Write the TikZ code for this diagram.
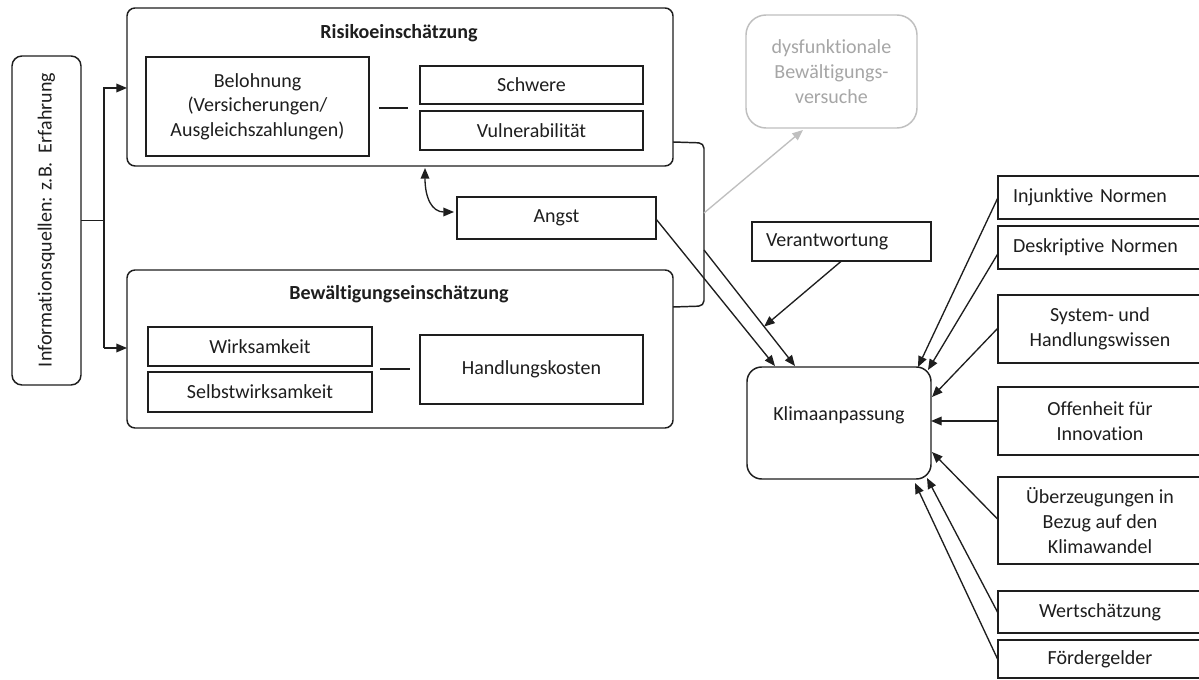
\documentclass[tikz,border=0pt]{standalone}
\usepackage{fontspec}
\setmainfont{Carlito}[Ligatures=NoCommon]
\usetikzlibrary{arrows.meta,calc}
\definecolor{lgray}{RGB}{191,191,191}
\definecolor{tgray}{RGB}{166,166,166}
\definecolor{ink}{RGB}{30,30,30}
\tikzset{
  box/.style={draw=ink, line width=1.1pt, align=center, text=ink},
  wh/.style 2 args={minimum width=#1*0.75pt, minimum height=#2*0.75pt},
  titletext/.style={font=\fontsize{15}{18.5}\selectfont\bfseries, text=ink},
  lefttext/.style 2 args={align=left, inner xsep=#1*0.75pt, text width=#2*0.75pt},
  con/.style={line width=1pt, draw=ink},
  tip/.style={-{Triangle[length=8pt,width=6.5pt]}},
  arr/.style={con, -{Triangle[length=8pt,width=6.5pt]}},
  darr/.style={con, {Triangle[length=8pt,width=6.5pt]}-{Triangle[length=8pt,width=6.5pt]}},
  garr/.style={line width=1pt, draw=lgray, -{Triangle[length=8pt,width=6.5pt,fill=lgray]}},
}
\begin{document}
\begin{tikzpicture}[x=0.75pt,y=-0.75pt,
  every node/.style={font=\fontsize{15}{18.5}\selectfont, inner sep=0pt, outer sep=0pt, text=ink}]
\useasboundingbox (0,0) rectangle (1199,680);
\fill[white] (0,0) rectangle (1199,680);
\clip (0,0) rectangle (1199,680);

% left source
\node[box, rounded corners=7.5pt, wh={69}{329}] (info) at (46.5,220.5) {};
\node[rotate=90] (infotext) at (46.5,220) {Informationsquellen: z.B.\ \ Erfahrung};

% Risikoeinschaetzung
\node[box, rounded corners=6pt, wh={546}{158}] (risiko) at (400,87) {};
\node[titletext] (risikoT) at (399,33) {Risikoeinschätzung};
\node[box, wh={223}{99}] (belohn) at (257.5,106.5) {Belohnung\\(Versicherungen/\\Ausgleichszahlungen)};
\node[box, wh={223}{38}] (schwere) at (531.5,85) {Schwere};
\node[box, wh={223}{39}] (vulner) at (531.5,130.5) {Vulnerabilität};
\draw[con] ($(belohn.east)+(10,1.5)$) -- ($(schwere.west |- belohn.east)+(-12,1.5)$);

% Angst
\node[box, wh={199}{42}] (angst) at (556.5,218) {Angst};

% Bewaeltigungseinschaetzung
\node[box, rounded corners=6pt, wh={546}{158}] (bewaelt) at (400,349) {};
\node[titletext] (bewaeltT) at (399,294) {Bewältigungseinschätzung};
\node[box, wh={224}{39}] (wirk) at (260,346.5) {Wirksamkeit};
\node[box, wh={224}{40}] (selbst) at (260,392) {Selbstwirksamkeit};
\node[box, wh={223}{69}] (handl) at (531.5,369.5) {Handlungskosten};
\draw[con] ($(wirk.east)+(8,22.5)$) -- ($(handl.west)+(-10,-0.5)$);

% dysfunktionale
\node[box, draw=lgray, text=tgray, rounded corners=15pt, wh={171}{113}] (dysf) at (831.5,71.5) {dysfunktionale\\Bewältigungs-\\versuche};

% Verantwortung, Klimaanpassung
\node[box, wh={179}{39}, lefttext={14}{151}] (verant) at (841.5,241.5) {Verantwortung};
\node[box, rounded corners=11pt, wh={184}{112}] (klima) at (839,423) {};
\node (klimatext) at ($(klima.center)+(0,-8)$) {Klimaanpassung};

% right boxes
\node[box, wh={204}{43}, lefttext={15}{174}] (injunk) at (1100,197.5) {Injunktive Normen};
\node[box, wh={204}{43}, lefttext={15}{174}] (deskr) at (1100,247.5) {Deskriptive Normen};
\node[box, wh={204}{68}] (system) at (1100,329) {System- und\\Handlungswissen};
\node[box, wh={204}{68}] (offen) at (1100,421) {Offenheit für\\Innovation};
\node[box, wh={204}{87}] (ueberz) at (1100,520.5) {Überzeugungen in\\Bezug auf den\\Klimawandel};
\node[box, wh={204}{42}] (wert) at (1100,612) {Wertschätzung};
\node[box, wh={204}{38}] (foerder) at (1100,659) {Fördergelder};

% info connectors
\coordinate (jt) at (104,88);
\coordinate (jb) at (104,348);
\draw[con] (info.east) -- (info.east -| jt);
\draw[arr] (jb) -- (jt) -- (jt -| risiko.west);
\draw[arr] (jb) -- (jb -| bewaelt.west);

% bracket
\coordinate (bt) at (704,143);
\coordinate (bb) at (704,306);
\coordinate (bg) at (704,213);
\coordinate (bk) at (704,250);
\draw[con, line width=1.1pt, rounded corners=4pt] ($(risiko.east |- bt)+(0,-1)$) -- (bt) -- (bb) -- ($(bewaelt.east |- bb)+(0,1)$);
\draw[garr] (bg) -- ($(dysf.south west)+(57,2)$);

% Risiko <-> Angst
\draw[darr] ($(risiko.south west)+(298,2)$) .. controls +(0,30) and +(-22,0) .. ($(angst.west)+(-3,-6)$);

% arrows into Klimaanpassung
\coordinate (kt1) at ($(klima.north west)+(28,-1)$);
\coordinate (kt2) at ($(klima.north west)+(48,-1)$);
\draw[arr] ($(angst.east)+(0,1)$) -- (kt1);
\draw[arr] (bk) -- (kt2);
\draw[arr] (verant.south) -- ($(bk)!0.66!(kt2)$);

\draw[arr] (injunk.west) -- ($(klima.north east)+(-13,0)$);
\draw[arr] ($(deskr.west)+(0,6)$) -- ($(klima.north east)+(-3,3)$);
\draw[arr] ($(system.west)+(0,-1)$) -- ($(klima.north east)+(1,30)$);
\draw[arr] (offen.west) -- (offen.west -| klima.east);
\draw[arr] ($(ueberz.west)+(0,-1)$) -- ($(klima.south east)+(1,-27)$);
\draw[arr] ($(wert.west)+(0,1)$) -- ($(klima.south east)+(-4,-1)$);
\draw[arr] ($(foerder.west)+(0,1)$) -- ($(klima.south east)+(-16,4)$);
\end{tikzpicture}
\end{document}
